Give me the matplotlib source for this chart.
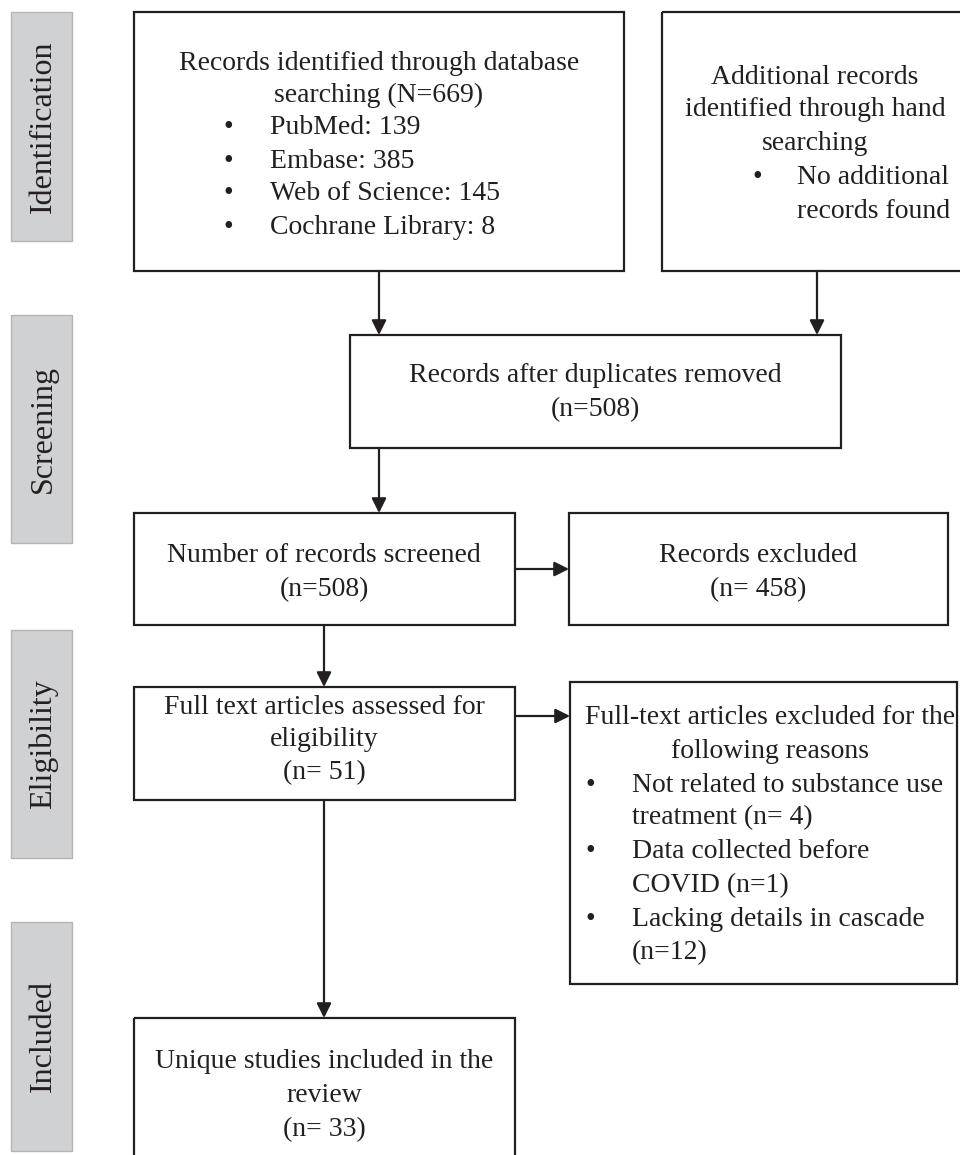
import matplotlib.pyplot as plt
from matplotlib.patches import Rectangle

plt.rcParams['font.family'] = ['Liberation Serif', 'DejaVu Serif']

# side stage labels
stages = ['Identification', 'Screening', 'Eligibility', 'Included']

# box texts
db_header = ['Records identified through database', 'searching (N=669)']
db_sources = ['PubMed: 139', 'Embase: 385', 'Web of Science: 145', 'Cochrane Library: 8']
hand_header = ['Additional records', 'identified through hand', 'searching']
hand_items = ['No additional', 'records found']
dedup_text = ['Records after duplicates removed', '(n=508)']
screened_text = ['Number of records screened', '(n=508)']
excluded_text = ['Records excluded', '(n= 458)']
fulltext_text = ['Full text articles assessed for', 'eligibility', '(n= 51)']
ft_excl_header = ['Full-text articles excluded for the', 'following reasons']
ft_excl_items = [['Not related to substance use', 'treatment (n= 4)'],
                 ['Data collected before', 'COVID (n=1)'],
                 ['Lacking details in cascade', '(n=12)']]
included_text = ['Unique studies included in the', 'review', '(n= 33)']

EDGE = '#231f20'
FS = 20

fig = plt.figure(figsize=(9.6, 11.55), dpi=100)
ax = fig.add_axes([0, 0, 1, 1])
ax.set_xlim(0, 960)
ax.set_ylim(1155, 0)
ax.axis('off')


def box(x0, y0, x1, y1):
    ax.add_patch(Rectangle((x0, y0), x1 - x0, y1 - y0, fill=False,
                           edgecolor=EDGE, lw=1.6))


def lines(x, ys, texts, ha='center'):
    for y, t in zip(ys, texts):
        ax.text(x, y, t, ha=ha, va='center', fontsize=FS, color=EDGE)


def arrow(x0, y0, x1, y1):
    ax.annotate('', xy=(x1, y1), xytext=(x0, y0),
                arrowprops=dict(arrowstyle='-|>', color=EDGE, lw=1.6,
                                mutation_scale=22, shrinkA=0, shrinkB=0))


# stage labels
stage_spans = [(12, 241), (315, 543), (630, 858), (922, 1151)]
for name, (y0, y1) in zip(stages, stage_spans):
    ax.add_patch(Rectangle((11, y0), 61, y1 - y0, facecolor='#d0d1d3',
                           edgecolor='#b4b5b7', lw=1.0))
    ax.text(43, (y0 + y1) / 2, name, rotation=90, ha='center', va='center',
            fontsize=23, color=EDGE)

# identification
box(134, 12, 624, 271)
lines(379, [63, 95], db_header)
src_y = [128, 161, 194, 227]
for y, t in zip(src_y, db_sources):
    ax.text(228, y, '\u2022', ha='center', va='center', fontsize=FS, color=EDGE)
lines(270, src_y, db_sources, ha='left')

box(662, 12, 962, 271)
lines(815, [77, 110, 144], hand_header)
ax.text(757, 177, '\u2022', ha='center', va='center', fontsize=FS, color=EDGE)
lines(797, [177, 211], hand_items, ha='left')

arrow(379, 271, 379, 335)
arrow(817, 271, 817, 335)

# screening
box(350, 335, 841, 448)
lines(595, [376, 410], dedup_text)
arrow(379, 448, 379, 513)

box(134, 513, 515, 625)
lines(324, [556, 590], screened_text)
box(569, 513, 948, 625)
lines(758, [556, 590], excluded_text)
arrow(515, 569, 569, 569)

# eligibility
arrow(324, 625, 324, 687)
box(134, 687, 515, 800)
lines(324, [707, 740, 773], fulltext_text)

box(570, 682, 957, 984)
lines(770, [718, 751], ft_excl_header)
item_y = [[785, 818], [852, 886], [920, 953]]
for ys, item in zip(item_y, ft_excl_items):
    ax.text(590, ys[0], '\u2022', ha='center', va='center', fontsize=FS, color=EDGE)
    lines(632, ys, item, ha='left')
arrow(515, 716, 570, 716)

# included
arrow(324, 800, 324, 1018)
box(134, 1018, 515, 1175)
lines(324, [1061, 1096, 1130], included_text)

fig.savefig('out.png', dpi=100)
